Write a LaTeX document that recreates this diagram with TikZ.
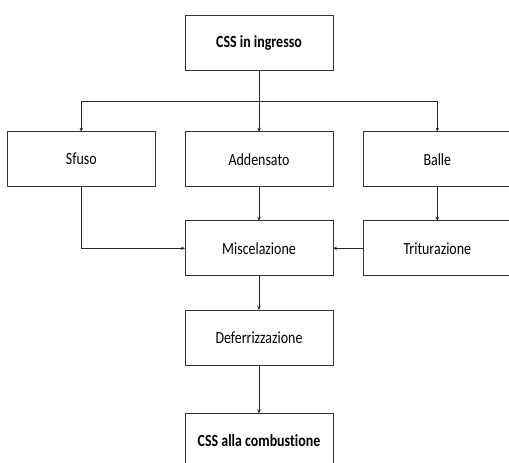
\documentclass[tikz,border=0pt]{standalone}
\usepackage{fontspec}
\setmainfont{Carlito}[FakeStretch=0.82,Ligatures=NoCommon]
\usetikzlibrary{arrows.meta}
\begin{document}
\begin{tikzpicture}[x=1pt,y=-1pt,
  box/.style={draw=black!80,line width=0.8pt,minimum width=148pt,minimum height=55pt,inner sep=0pt,outer sep=0pt,font=\fontsize{17}{19}\selectfont},
  bbox/.style={box,font=\fontsize{17}{19}\selectfont\bfseries},
  arr/.style={draw=black!85,line width=0.6pt,-{Stealth[length=4pt,width=3.5pt]}}]
\useasboundingbox (0,0) rectangle (509,463);
\clip (0,0) rectangle (509,463);
\node[bbox] (top) at (259,42.8) {CSS in ingresso};
\node[box] (sfuso) at (81.3,159.2) {Sfuso};
\node[box] (add) at (259,159.2) {Addensato};
\node[box] (balle) at (437.3,159.2) {Balle};
\node[box] (misc) at (259,248.3) {Miscelazione};
\node[box] (trit) at (437.3,248.3) {Triturazione};
\node[box] (def) at (259,337.5) {Deferrizzazione};
\node[bbox] (css) at (259,440.8) {CSS alla combustione};
\coordinate (j) at (259,101);
\draw[arr] (top) -- (add);
\draw[arr] (j) -| (sfuso);
\draw[arr] (j) -| (balle);
\draw[arr] (add) -- (misc);
\draw[arr] (sfuso) |- (misc);
\draw[arr] (balle) -- (trit);
\draw[arr] (trit) -- (misc);
\draw[arr] (misc) -- (def);
\draw[arr] (def) -- (css);
\end{tikzpicture}
\end{document}
